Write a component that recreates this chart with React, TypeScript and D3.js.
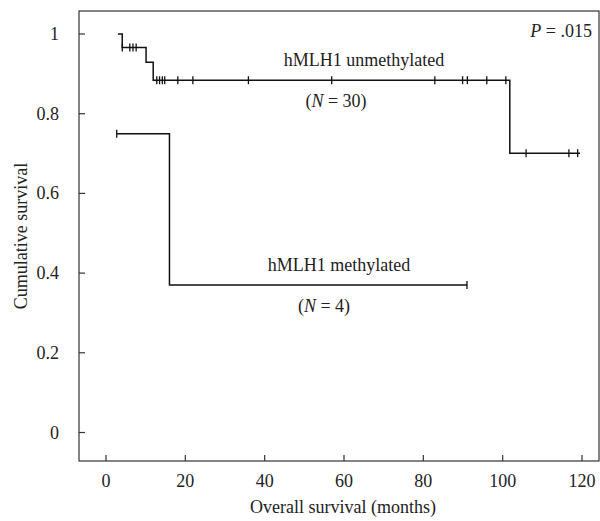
import * as d3 from 'd3'
import React from 'react'

// survival steps: [months, cumulative survival]
const unmethylatedSteps: [number, number][] = [[3, 1], [4.1, 0.966], [10.1, 0.929], [11.9, 0.884], [101.8, 0.701]]
const unmethylatedEnd = 119.5
const unmethylatedCensored = [4.1, 6, 6.8, 7.6, 12.8, 13.5, 14.2, 14.8, 18.1, 21.9, 35.9, 56.9, 82.9, 89.9, 91.1, 96, 100.8, 105.9, 116.7, 118.9]

const methylatedSteps: [number, number][] = [[2.7, 0.75], [16, 0.37]]
const methylatedEnd = 91
const methylatedCensored = [2.7, 91]

const xTicks = [0, 20, 40, 60, 80, 100, 120]
const yTicks = [0, 0.2, 0.4, 0.6, 0.8, 1]

const W = 600, H = 521
const FONT = "Liberation Serif"

export default function App() {
    const ref = React.useRef<SVGSVGElement>(null)

    React.useEffect(() => {
        document.body.style.margin = '0'
        draw()
    })

    function survAt(steps: [number, number][], t: number) {
        let s = steps[0][1]
        steps.forEach(d => { if (t >= d[0]) s = d[1] })
        return s
    }

    function draw() {
        const svg = d3.select(ref.current)
        svg.selectAll('*').remove()

        const left = 79, right = 599, top = 11, bottom = 461
        const x = d3.scaleLinear().domain([0, 120]).range([106, 582])
        const y = d3.scaleLinear().domain([0, 1]).range([432.5, 34])

        // frame
        svg.append('rect')
            .attr('x', left).attr('y', top)
            .attr('width', right - left).attr('height', bottom - top)
            .attr('fill', 'none').attr('stroke', '#333').attr('stroke-width', 1.2)

        const lbl = (tx: number, ty: number, anchor = 'middle') => svg.append('text')
            .attr('x', tx).attr('y', ty).attr('text-anchor', anchor)
            .attr('font-family', FONT).attr('font-size', 18).attr('fill', '#222')

        // ticks (pointing inward)
        xTicks.forEach(t => {
            svg.append('line').attr('x1', x(t)).attr('x2', x(t)).attr('y1', bottom).attr('y2', bottom - 6)
                .attr('stroke', '#333').attr('stroke-width', 1.2)
            lbl(x(t), bottom + 26).text(d3.format('d')(t))
        })
        yTicks.forEach(t => {
            svg.append('line').attr('x1', left).attr('x2', left + 6).attr('y1', y(t)).attr('y2', y(t))
                .attr('stroke', '#333').attr('stroke-width', 1.2)
            lbl(left - 20, y(t) + 6, 'end').text(t === 0 || t === 1 ? String(t) : d3.format('.1f')(t))
        })

        // curves
        const line = d3.line<[number, number]>().x(d => x(d[0])).y(d => y(d[1])).curve(d3.curveStepAfter)
        function curve(steps: [number, number][], end: number, censored: number[]) {
            const pts = steps.concat([[end, steps[steps.length - 1][1]]])
            svg.append('path').attr('d', line(pts)).attr('fill', 'none')
                .attr('stroke', '#111').attr('stroke-width', 1.5)
            svg.append('g').selectAll('line').data(censored).enter().append('line')
                .attr('x1', d => x(d)).attr('x2', d => x(d))
                .attr('y1', d => y(survAt(steps, d)) - 4).attr('y2', d => y(survAt(steps, d)) + 4)
                .attr('stroke', '#111').attr('stroke-width', 1.3)
        }
        curve(unmethylatedSteps, unmethylatedEnd, unmethylatedCensored)
        curve(methylatedSteps, methylatedEnd, methylatedCensored)

        // labels
        const uY = y(unmethylatedSteps[3][1])
        lbl(364, uY - 14).text('hMLH1 unmethylated')
        const n30 = lbl(336, uY + 27)
        n30.append('tspan').text('(')
        n30.append('tspan').attr('font-style', 'italic').text('N')
        n30.append('tspan').text(' = 30)')

        const mY = y(methylatedSteps[1][1])
        lbl(339, mY - 14).text('hMLH1 methylated')
        const n4 = lbl(324, mY + 27)
        n4.append('tspan').text('(')
        n4.append('tspan').attr('font-style', 'italic').text('N')
        n4.append('tspan').text(' = 4)')

        const p = lbl(592, 37, 'end')
        p.append('tspan').attr('font-style', 'italic').text('P')
        p.append('tspan').text(' = .015')

        lbl(343, 513).text('Overall survival (months)')
        lbl(0, 0).attr('transform', `translate(27,${(top + bottom) / 2}) rotate(-90)`).text('Cumulative survival')
    }

    return (
        <svg ref={ref} width={W} height={H} style={{ display: 'block', background: '#fff' }}></svg>
    )
}
